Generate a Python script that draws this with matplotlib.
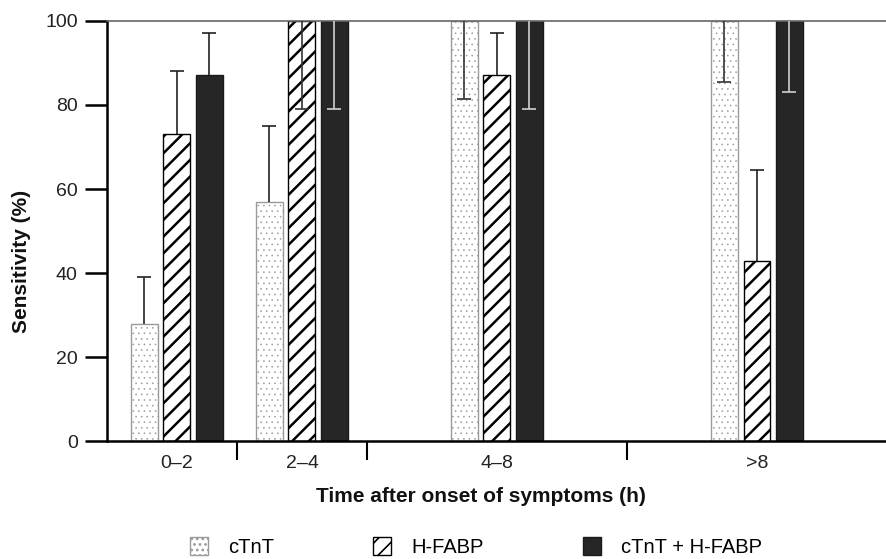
import matplotlib
matplotlib.use("Agg")
import matplotlib.pyplot as plt
from matplotlib.patches import Patch
import numpy as np

plt.rcParams['font.family'] = ['Liberation Sans', 'DejaVu Sans']
plt.rcParams['hatch.linewidth'] = 1.8

# Data
groups = ["0\u20132", "2\u20134", "4\u20138", ">8"]
group_edges = [2, 4, 8]
series = ["cTnT", "H-FABP", "cTnT + H-FABP"]
ctnt = [28, 57, 100, 100]
hfabp = [73, 100, 87, 43]
combo = [87, 100, 100, 100]
# error bars: (lower, upper) -- lower only drawn where the bar hits 100%
ctnt_err = [(0, 11), (0, 18), (18.5, 0), (14.5, 0)]
hfabp_err = [(0, 15), (21, 0), (0, 10), (0, 21.5)]
combo_err = [(0, 10), (21, 0), (21, 0), (17, 0)]

# Layout / styles
centers = np.array([1.07, 3.0, 6.0, 10.0])
offsets = [-0.5, 0.0, 0.5]
width = 0.415
styles = [
    dict(facecolor="white", edgecolor="#9a9a9a", hatch="...", linewidth=1.0),
    dict(facecolor="white", edgecolor="black", hatch="//", linewidth=1.0),
    dict(facecolor="#262626", edgecolor="#1a1a1a", linewidth=1.0),
]
inner_err_color = ["#333333", "#333333", "#d0d0d0"]

fig = plt.figure(figsize=(8.87, 5.59), dpi=100)
ax = fig.add_axes([0.1206, 0.2102, 0.8794, 0.7528])

values = [ctnt, hfabp, combo]
errors = [ctnt_err, hfabp_err, combo_err]
for i in range(3):
    xs = centers + offsets[i]
    # thinner hatch strokes for the dotted bars
    plt.rcParams['hatch.linewidth'] = 0.4 if i == 0 else 1.8
    ax.bar(xs, values[i], width=width, zorder=2, **styles[i])
    for x, v, (lo, hi) in zip(xs, values[i], errors[i]):
        col = "#222222" if hi > 0 else inner_err_color[i]
        _, caps, _ = ax.errorbar(x, v, yerr=[[lo], [hi]], fmt="none",
                                 ecolor=col, elinewidth=1.2, capsize=5,
                                 capthick=1.2, zorder=3)
        for c in caps:
            if abs(c.get_ydata()[0] - v) < 1e-6:
                c.set_visible(False)

ax.set_xlim(0, 12)
ax.set_ylim(0, 100)
ax.set_yticks([0, 20, 40, 60, 80, 100])
ax.tick_params(axis="y", direction="out", length=16, width=1.8,
               labelsize=14, pad=5, colors="black", labelcolor="#222222")

ax.set_xticks(group_edges)
ax.set_xticklabels([])
ax.tick_params(axis="x", which="major", direction="out", length=14, width=1.5)
ax.set_xticks(centers, minor=True)
ax.set_xticklabels(groups, minor=True)
ax.tick_params(axis="x", which="minor", length=0, labelsize=14, pad=10,
               labelcolor="#222222")

ax.spines["right"].set_visible(False)
ax.spines["top"].set_color("#666666")
ax.spines["top"].set_linewidth(1.2)
ax.spines["left"].set_linewidth(1.8)
ax.spines["bottom"].set_linewidth(1.8)

fig.text(481 / 887, 1 - 497 / 559, "Time after onset of symptoms (h)",
         ha="center", va="center", fontsize=15, fontweight="bold", color="#111111")
fig.text(22 / 887, 1 - 261 / 559, "Sensitivity (%)", rotation=90,
         ha="center", va="center", fontsize=15, fontweight="bold", color="#111111")

plt.rcParams['hatch.linewidth'] = 1.2
handles = [Patch(**s) for s in styles]
fig.legend(handles, series, loc="center", bbox_to_anchor=(476 / 887, 1 - 547 / 559),
           ncol=3, frameon=False, fontsize=14.5, handlelength=0.9,
           handleheight=1.0, handletextpad=1.0, columnspacing=4.9)

fig.savefig("out.png", dpi=100)
